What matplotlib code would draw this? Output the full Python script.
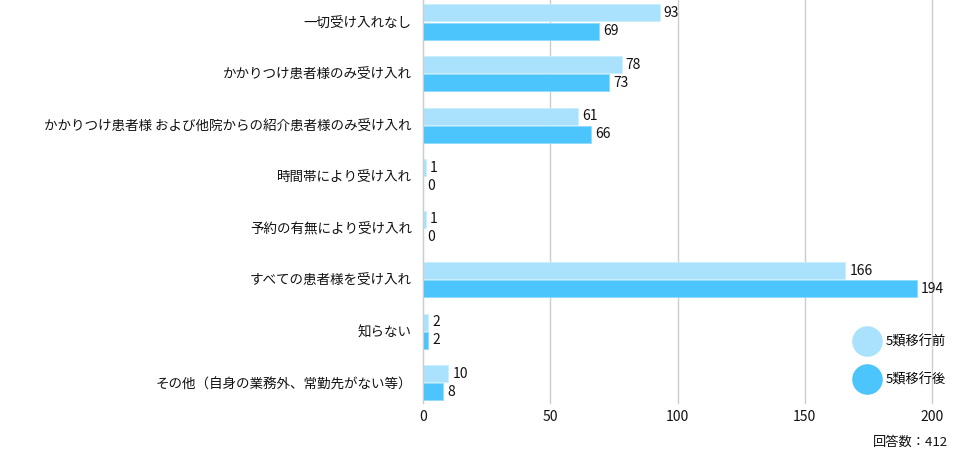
import numpy as np
import matplotlib.pyplot as plt
from matplotlib.lines import Line2D

plt.rcParams['font.family'] = ['Noto Sans CJK JP', 'DejaVu Sans']

categories = ['一切受け入れなし',
              'かかりつけ患者様のみ受け入れ',
              'かかりつけ患者様 および他院からの紹介患者様のみ受け入れ',
              '時間帯により受け入れ',
              '予約の有無により受け入れ',
              'すべての患者様を受け入れ',
              '知らない',
              'その他（自身の業務外、常勤先がない等）']
before = [93, 78, 61, 1, 1, 166, 2, 10]
after = [69, 73, 66, 0, 0, 194, 2, 8]
series_names = ['5類移行前', '5類移行後']
xticks = [0, 50, 100, 150, 200]

c_before = '#aae2fd'
c_after = '#4cc4fc'
txt = '#111111'

fig = plt.figure(figsize=(9.76, 4.59), dpi=100)
ax = fig.add_axes([423/976, 1-403/459, 509/976, 403/459])

y = np.arange(len(categories))
h = 0.33
b1 = ax.barh(y - h/2 - 0.01, before, height=h, color=c_before, edgecolor='#c8eefe', linewidth=0.6, zorder=3)
b2 = ax.barh(y + h/2 + 0.01, after, height=h, color=c_after, edgecolor='#8fdafd', linewidth=0.6, zorder=3)

for bars, vals in [(b1, before), (b2, after)]:
    for bar, v in zip(bars, vals):
        ax.annotate(str(v), (v, bar.get_y() + bar.get_height()/2),
                    xytext=(3, 0), textcoords='offset points',
                    va='center', ha='left', fontsize=10, color=txt)

ax.set_xlim(0, 200)
ax.set_ylim(7.39, -0.427)
ax.set_yticks(y)
ax.set_yticklabels(categories, fontsize=9.75, color=txt)
ax.set_xticks(xticks)
ax.set_xticklabels([str(t) for t in xticks], fontsize=10, color=txt)
ax.tick_params(axis='both', length=0)
ax.tick_params(axis='y', pad=8)
ax.tick_params(axis='x', pad=5)
ax.grid(axis='x', color='#cccccc', linewidth=1, zorder=0)
for line in ax.get_xgridlines():
    line.set_clip_on(False)
for s in ['top', 'right', 'bottom']:
    ax.spines[s].set_visible(False)
ax.spines['left'].set_color('#cccccc')
ax.spines['left'].set_zorder(4)

handles = [Line2D([], [], marker='o', linestyle='', markersize=21,
                  markerfacecolor=c, markeredgecolor=c) for c in [c_before, c_after]]
fig.legend(handles, series_names, loc='center', bbox_to_anchor=(899/976, 1-361/459),
           frameon=False, fontsize=9.5, labelspacing=1.9, handletextpad=0.35,
           handlelength=2.2)

fig.text(948/976, 1-442/459, '回答数：412', ha='right', va='center', fontsize=9.5, color=txt)

fig.savefig('out.png', dpi=100)
